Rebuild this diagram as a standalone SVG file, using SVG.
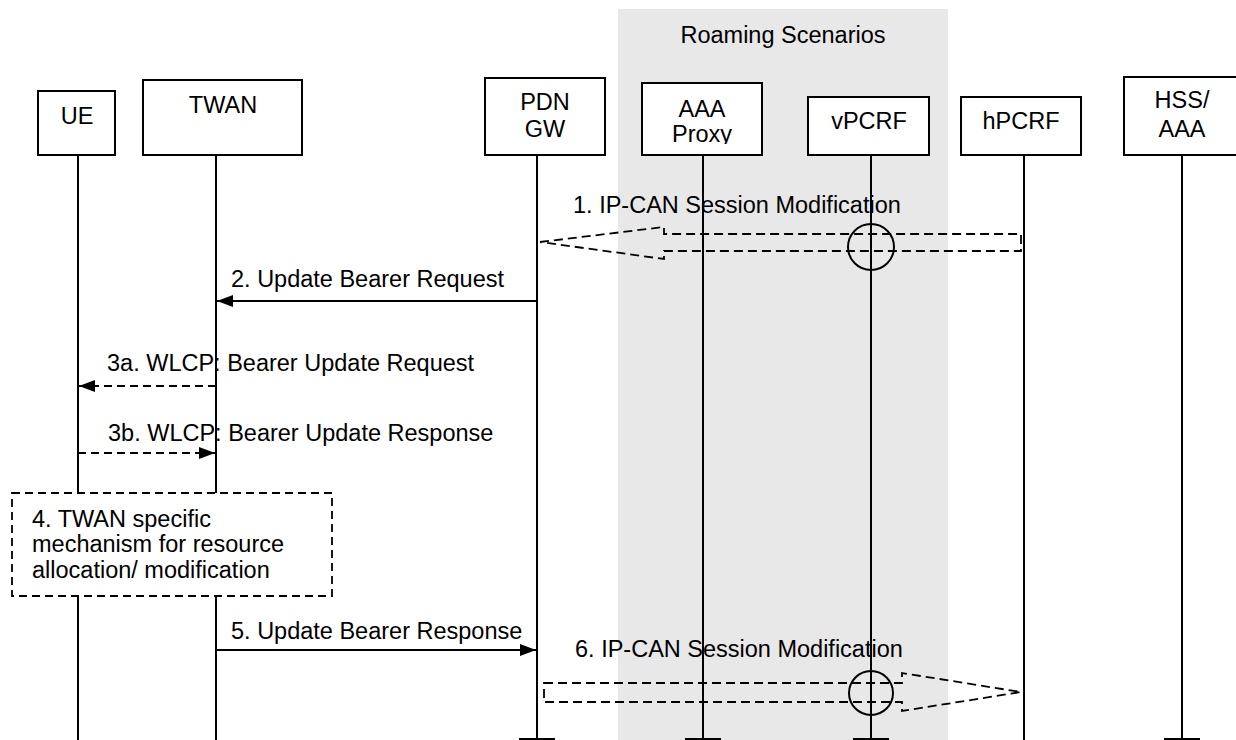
<svg xmlns="http://www.w3.org/2000/svg" width="1236" height="740" viewBox="0 0 1236 740">
<style>
text{font-family:"Liberation Sans",Arial,sans-serif;font-size:23.5px;fill:#000}
.box{fill:#fff;stroke:#000;stroke-width:2}
.life{stroke:#000;stroke-width:2;fill:none}
.msg{stroke:#000;stroke-width:2;fill:none}
.dash{stroke:#000;stroke-width:2;fill:none;stroke-dasharray:8,5}
.hollow{stroke:#000;stroke-width:1.8;fill:none;stroke-dasharray:9,5}
.ring{stroke:#000;stroke-width:2;fill:none}
</style>
<defs>
<marker id="ah" viewBox="0 0 16 12" refX="16" refY="6" markerWidth="16" markerHeight="12" markerUnits="userSpaceOnUse" orient="auto">
<path d="M0,0 L16,6 L0,12 Z" fill="#000"/>
</marker>
<clipPath id="proxyclip"><rect x="642" y="83" width="120" height="61"/></clipPath>
</defs>
<rect id="roaming" x="618" y="9" width="330" height="731" fill="#e8e8e8"/>
<text x="783" y="43" text-anchor="middle">Roaming Scenarios</text>
<g id="lifelines">
<line class="life" x1="78" y1="155" x2="78" y2="740"/>
<line class="life" x1="216" y1="155" x2="216" y2="740"/>
<line class="life" x1="537" y1="155" x2="537" y2="739"/>
<line class="life" x1="519" y1="739" x2="555" y2="739"/>
<line class="life" x1="703" y1="155" x2="703" y2="739"/>
<line class="life" x1="685" y1="739" x2="721" y2="739"/>
<line class="life" x1="871" y1="155" x2="871" y2="739"/>
<line class="life" x1="853" y1="739" x2="889" y2="739"/>
<line class="life" x1="1024" y1="155" x2="1024" y2="740"/>
<line class="life" x1="1182" y1="155" x2="1182" y2="739"/>
<line class="life" x1="1164" y1="739" x2="1200" y2="739"/>
</g>
<g id="UE"><rect class="box" x="38" y="91" width="77" height="64"/><text x="77" y="124" text-anchor="middle">UE</text></g>
<g id="TWAN"><rect class="box" x="143" y="80" width="159" height="75"/><text x="223" y="113" text-anchor="middle">TWAN</text></g>
<g id="PDNGW"><rect class="box" x="485" y="78" width="120" height="77"/><text x="545" y="110" text-anchor="middle">PDN</text><text x="545" y="137" text-anchor="middle">GW</text></g>
<g id="AAAProxy"><rect class="box" x="642" y="83" width="120" height="72"/><text x="702" y="117" text-anchor="middle">AAA</text><text x="702" y="142" text-anchor="middle" clip-path="url(#proxyclip)">Proxy</text></g>
<g id="vPCRF"><rect class="box" x="808" y="97" width="121" height="58"/><text x="869" y="129" text-anchor="middle">vPCRF</text></g>
<g id="hPCRF"><rect class="box" x="961" y="97" width="120" height="58"/><text x="1021" y="129" text-anchor="middle">hPCRF</text></g>
<g id="HSSAAA"><rect class="box" x="1124" y="77" width="118" height="78"/><text x="1182" y="108" text-anchor="middle">HSS/</text><text x="1182" y="137" text-anchor="middle">AAA</text></g>
<g id="step4"><rect x="12" y="493" width="320" height="103" fill="#fff" stroke="#000" stroke-width="1.8" stroke-dasharray="8,5"/>
<text x="32" y="527">4. TWAN specific</text><text x="32" y="552">mechanism for resource</text><text x="32" y="578">allocation/ modification</text></g>
<g id="connectors">
<polygon class="hollow" points="540,242 664,227 664,234 1021,234 1021,251 664,251 664,259"/>
<circle class="ring" cx="871" cy="247" r="23"/>
<text x="573" y="213">1. IP-CAN Session Modification</text>
<line class="msg" x1="537" y1="301" x2="217" y2="301" marker-end="url(#ah)"/>
<text x="231" y="287">2. Update Bearer Request</text>
<line class="dash" x1="216" y1="386" x2="79" y2="386" marker-end="url(#ah)"/>
<text x="107" y="371">3a. WLCP: Bearer Update Request</text>
<line class="dash" x1="78" y1="453" x2="215" y2="453" marker-end="url(#ah)"/>
<text x="108" y="441">3b. WLCP: Bearer Update Response</text>
<line class="msg" x1="216" y1="650" x2="536" y2="650" marker-end="url(#ah)"/>
<text x="231" y="639">5. Update Bearer Response</text>
<polygon class="hollow" points="544,683 902,683 902,673 1021,692 902,711 902,702 544,702"/>
<circle class="ring" cx="871" cy="693" r="22"/>
<text x="575" y="657">6. IP-CAN Session Modification</text>
</g>
</svg>
